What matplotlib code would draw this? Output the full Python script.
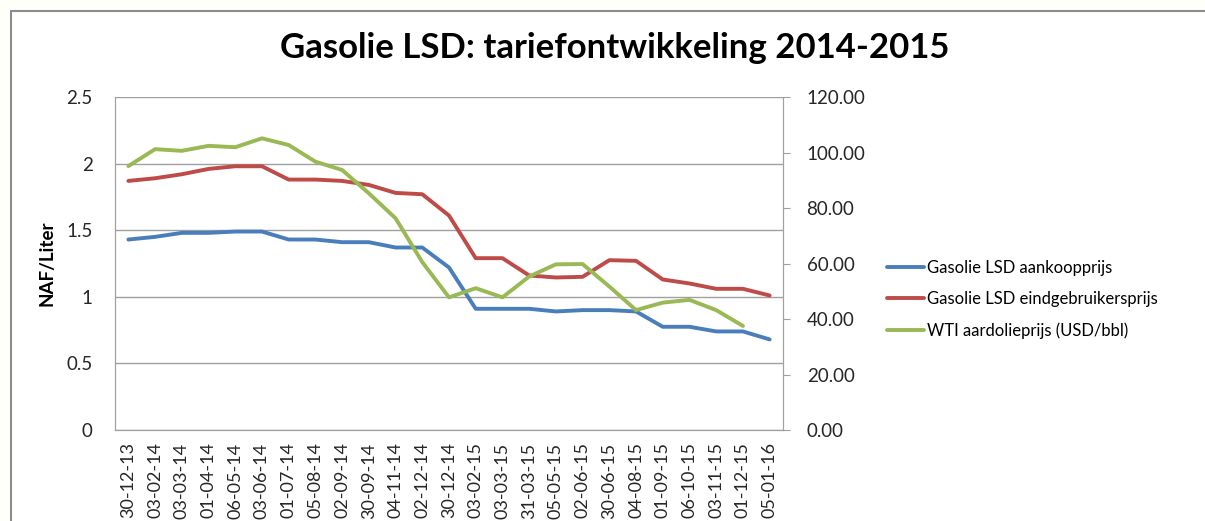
import matplotlib.pyplot as plt
from matplotlib.patches import Rectangle

plt.rcParams['font.family'] = ['Lato', 'DejaVu Sans']

dates = ['30-12-13', '03-02-14', '03-03-14', '01-04-14', '06-05-14', '03-06-14',
         '01-07-14', '05-08-14', '02-09-14', '30-09-14', '04-11-14', '02-12-14',
         '30-12-14', '03-02-15', '03-03-15', '31-03-15', '05-05-15', '02-06-15',
         '30-06-15', '04-08-15', '01-09-15', '06-10-15', '03-11-15', '01-12-15',
         '05-01-16']

# NAF/liter
aankoop = [1.43, 1.45, 1.48, 1.48, 1.49, 1.49, 1.43, 1.43, 1.41, 1.41, 1.37, 1.37,
           1.22, 0.91, 0.91, 0.91, 0.89, 0.90, 0.90, 0.89, 0.775, 0.775, 0.74, 0.74,
           0.68]
eindgebruiker = [1.87, 1.89, 1.92, 1.96, 1.98, 1.98, 1.88, 1.88, 1.87, 1.84, 1.78, 1.77,
                 1.61, 1.29, 1.29, 1.16, 1.145, 1.15, 1.275, 1.27, 1.13, 1.10, 1.06,
                 1.06, 1.01]
# USD/bbl, no value for the last date
wti = [95.1, 101.2, 100.6, 102.4, 101.9, 105.1, 102.7, 96.7, 93.7, 85.3, 76.3, 60.5,
       47.8, 51.1, 47.8, 55.3, 59.7, 59.8, 51.7, 43.2, 45.9, 46.9, 43.2, 37.5]

labels = ['Gasolie LSD aankoopprijs', 'Gasolie LSD eindgebruikersprijs',
          'WTI aardolieprijs (USD/bbl)']

fig = plt.figure(figsize=(12.05, 5.21), dpi=100)
fig.patch.set_facecolor('#fffffa')
# chart area with grey border
fig.add_artist(Rectangle((11 / 1205, -0.1), 1.2, (521 - 11) / 521 + 0.1,
                         transform=fig.transFigure, facecolor='white',
                         edgecolor='#8c8c8c', linewidth=1.5, zorder=0))

ax = fig.add_axes([115 / 1205, 91 / 521, 668 / 1205, 333 / 521])
ax2 = ax.twinx()

x = list(range(len(dates)))
l1, = ax.plot(x, aankoop, color='#4a7ebb', lw=2.8, solid_capstyle='round')
l2, = ax.plot(x, eindgebruiker, color='#be4b48', lw=2.8, solid_capstyle='round')
l3, = ax2.plot(x[:len(wti)], wti, color='#98b954', lw=2.8, solid_capstyle='round')

ax.set_xlim(-0.5, len(dates) - 0.5)
ax.set_ylim(0, 2.5)
ax.set_yticks([0, 0.5, 1, 1.5, 2, 2.5])
ax.set_yticklabels(['0', '0.5', '1', '1.5', '2', '2.5'])
ax2.set_ylim(0, 120)
ax2.set_yticks(range(0, 121, 20))
ax2.set_yticklabels(['%.2f' % v for v in range(0, 121, 20)])

ax.grid(axis='y', color='#a0a0a0', lw=1)
ax.set_axisbelow(True)
ax.set_xticks(x)
ax.set_xticklabels(dates, rotation=90)

for a in (ax, ax2):
    a.spines['top'].set_visible(False)
    for s in ('left', 'right', 'bottom'):
        a.spines[s].set_color('#a0a0a0')
ax.tick_params(axis='y', length=0, pad=16, labelsize=13.5, labelcolor='#262626')
ax.tick_params(axis='x', length=0, pad=9, labelsize=13, labelcolor='#262626')
ax2.tick_params(axis='y', length=5, color='#a0a0a0', pad=12, labelsize=13.5,
                labelcolor='#262626')

ax.set_ylabel('NAF/Liter', fontsize=13.5, fontweight='bold', labelpad=8)

fig.text(615 / 1205, 1 - 48 / 521, 'Gasolie LSD: tariefontwikkeling 2014-2015',
         ha='center', va='center', fontsize=25, fontweight='bold')

fig.legend([l1, l2, l3], labels, loc='upper left',
           bbox_to_anchor=(872 / 1205, 1 - 245 / 521), frameon=False,
           fontsize=12, handlelength=2.2, handletextpad=0.2, labelspacing=0.9)

fig.savefig('out.png', dpi=100, facecolor=fig.get_facecolor())
